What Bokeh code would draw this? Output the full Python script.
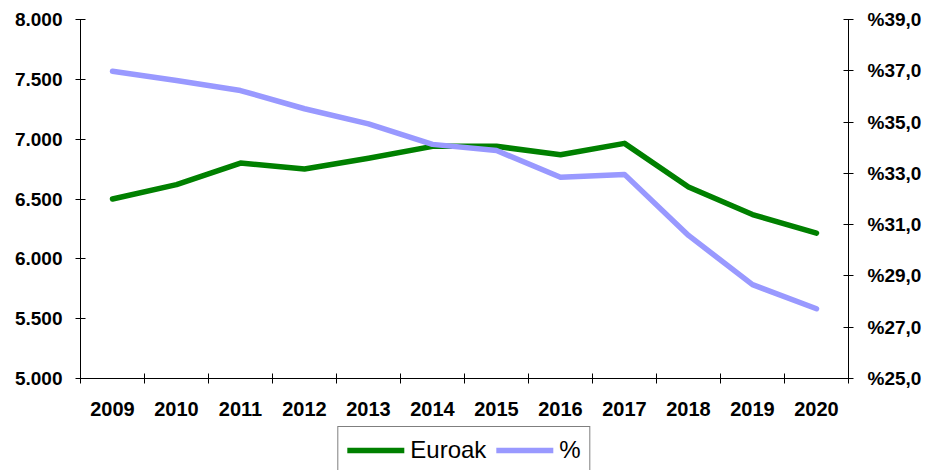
from bokeh.plotting import figure
from bokeh.models import (Range1d, LinearAxis, FixedTicker, Legend, LegendItem)
from bokeh.layouts import column
from bokeh.embed import file_html
from bokeh.resources import INLINE

years = [2009, 2010, 2011, 2012, 2013, 2014, 2015, 2016, 2017, 2018, 2019, 2020]
euroak = [6500, 6620, 6800, 6750, 6840, 6940, 6940, 6870, 6965, 6600, 6370, 6215]
percent = [36.98, 36.62, 36.23, 35.52, 34.93, 34.13, 33.89, 32.85, 32.96, 30.58, 28.66, 27.72]

left_ticks = [5000, 5500, 6000, 6500, 7000, 7500, 8000]
left_labels = ["5.000", "5.500", "6.000", "6.500", "7.000", "7.500", "8.000"]
right_ticks = [25, 27, 29, 31, 33, 35, 37, 39]
right_labels = ["%25,0", "%27,0", "%29,0", "%31,0", "%33,0", "%35,0", "%37,0", "%39,0"]
series_names = ["Euroak", "%"]
series_colors = ["#008000", "#9999FF"]

FONT = "Liberation Sans"
LW = 5.5

p = figure(width=929, height=426, output_backend="svg", toolbar_location=None,
           x_range=Range1d(years[0] - 0.5, years[-1] + 0.5),
           y_range=Range1d(left_ticks[0], left_ticks[-1]),
           min_border_left=80, min_border_right=81, min_border_top=19, min_border_bottom=48,
           x_axis_location=None, y_axis_location=None)
p.outline_line_color = None
p.xgrid.visible = False
p.ygrid.visible = False
p.extra_y_ranges = {"pct": Range1d(right_ticks[0], right_ticks[-1])}

# bottom axis: labels at year centres, tick marks at category boundaries
xaxis = LinearAxis(ticker=FixedTicker(ticks=years,
                                      minor_ticks=[y - 0.5 for y in years] + [years[-1] + 0.5]))
xaxis.major_tick_line_color = None
xaxis.major_tick_in = 0
xaxis.major_tick_out = 0
xaxis.minor_tick_in = 5
xaxis.minor_tick_out = 5
xaxis.minor_tick_line_color = "black"
xaxis.axis_line_color = "black"
xaxis.major_label_text_font = FONT
xaxis.major_label_text_font_style = "bold"
xaxis.major_label_text_font_size = "20px"
xaxis.major_label_text_color = "black"
xaxis.major_label_standoff = 18
p.add_layout(xaxis, "below")

yleft = LinearAxis(ticker=FixedTicker(ticks=left_ticks))
yleft.major_label_overrides = dict(zip(left_ticks, left_labels))
yleft.major_tick_in = 5
yleft.major_tick_out = 5
yleft.major_label_standoff = 13
yleft.major_label_text_font = FONT
yleft.major_label_text_font_style = "bold"
yleft.major_label_text_font_size = "19px"
yleft.major_label_text_color = "black"
p.add_layout(yleft, "left")

yright = LinearAxis(y_range_name="pct", ticker=FixedTicker(ticks=right_ticks))
yright.major_label_overrides = dict(zip(right_ticks, right_labels))
yright.major_tick_in = 5
yright.major_tick_out = 5
yright.major_label_standoff = 14
yright.major_label_text_font = FONT
yright.major_label_text_font_style = "bold"
yright.major_label_text_font_size = "19px"
yright.major_label_text_color = "black"
p.add_layout(yright, "right")

p.line(years, euroak, line_color=series_colors[0], line_width=LW,
       line_cap="round", line_join="round")
p.line(years, percent, y_range_name="pct", line_color=series_colors[1], line_width=LW,
       line_cap="round", line_join="round")

# legend strip below the chart (its lines lie outside its ranges, only the legend shows)
lg = figure(width=929, height=44, output_backend="svg", toolbar_location=None,
            x_range=Range1d(0, 1), y_range=Range1d(0, 1),
            min_border_left=0, min_border_right=0, min_border_top=0, min_border_bottom=0,
            x_axis_location=None, y_axis_location=None)
lg.outline_line_color = None
lg.xgrid.visible = False
lg.ygrid.visible = False
items = []
for name, col, vals in zip(series_names, series_colors, [euroak, percent]):
    r = lg.line(x=years, y=vals, line_color=col, line_width=LW, line_cap="round")
    items.append(LegendItem(label=name, renderers=[r]))

legend = Legend(items=items, orientation="horizontal", location="top_center")
legend.label_text_font = FONT
legend.label_text_font_size = "24px"
legend.label_text_color = "black"
legend.glyph_width = 57
legend.glyph_height = 20
legend.label_standoff = 6
legend.spacing = 10
legend.padding = 9
legend.margin = 0
legend.border_line_color = "black"
legend.border_line_width = 1
legend.background_fill_color = "white"
legend.background_fill_alpha = 1
lg.add_layout(legend, "center")

layout = column(p, lg, spacing=0)
open("out.html", "w").write(file_html(layout, INLINE))
